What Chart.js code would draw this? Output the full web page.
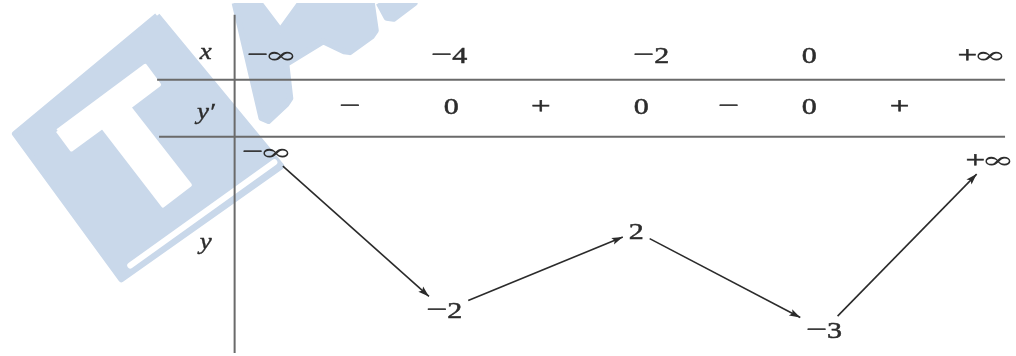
<!DOCTYPE html>
<html><head><meta charset="utf-8">
<script src="https://cdn.jsdelivr.net/npm/chart.js@4.4.1/dist/chart.umd.min.js"></script>
<style>
html,body{margin:0;padding:0;background:#fff;overflow:hidden}
#wrap{width:1016px;height:356px;position:relative}
canvas{filter:blur(0.35px)}
</style>
</head><body><div id="wrap"><canvas id="c" width="1016" height="356"></canvas></div>
<script>
// ---------------- data ----------------
const rowLabels  = ['x', 'y′', 'y'];
const xValues    = ['−∞', '−4', '−2', '0', '+∞'];
const derivSigns = ['−', '0', '+', '0', '−', '0', '+'];
const yLabels    = ['−∞', '−2', '2', '−3', '+∞'];
const yValues    = [-Infinity, -2, 2, -3, Infinity];

// ---------------- layout (units of the x / y scales) ----------------
const layout = {
  xCols:    [271, 449, 652, 811, 985],
  signCols: [349, 451, 541, 642, 730, 811, 902],
  yCols:    [266, 444, 637, 826, 993],
  labelX:   204,
  xRowBase: 61,
  signRowBase: 113,
  rowLabelBases: [57, 118, 250],
  infBase: {neg: 160, pos: 168},
  vLine: {x: 233, y0: 12, y1: 356},
  hLines: [{y: 78, x0: 155, x1: 1008}, {y: 136, x0: 157, x1: 1008}],
  vAxis: {min: -3.775, max: 14.025}
};

// watermark decoration (light blue "TA")
const watermark = {
  color: '#c9d8ea',
  blocks: [
    [[155,13],[280,166],[119,281],[12,133]],
    [[233,0],[258,0],[279,28],[299,0],[371,0],[375,28],[371,34],[349,50],[343,49],[322,39],[285,62],[289,97],[285,103],[267,120],[260,117]],
    [[378,0],[386,15],[393,16],[414,0]]
  ],
  holes: [
    [[55,130],[143,64],[157,83],[127,106],[188,185],[161,206],[100,126],[69,149]]
  ],
  stripe: [[128,267],[273,162]]
};

const styles = {
  text: '#2c2c2c',
  rule: '#6a6a6a',
  ruleWidth: 2,
  arrow: '#2b2b2b',
  arrowWidth: 1.6,
  headLen: 11,
  headHalf: 3.6
};

const GLYPH = {
  '−': {font: '24px "Liberation Serif"', sx: 1.55, dy: -1, kern: 0, stroke: 0.5},
  '+': {font: '24px "Liberation Serif"', sx: 1.45, dy: -1, kern: 0, stroke: 0.5},
  '∞': {font: '23px "DejaVu Serif"', sx: 1.75, dy: 0, kern: -4, stroke: 0},
  d:   {font: '24px "Liberation Serif"', sx: 1.25, dy: 0, kern: 0, stroke: 0.5},
  it:  {font: 'italic 24px "Liberation Serif"', sx: 1.12, dy: 0, kern: 0, stroke: 0.4}
};
function glyphFor(ch, italic) {
  if (italic) return GLYPH.it;
  return GLYPH[ch] || GLYPH.d;
}
function measureMath(ctx, str, italic) {
  let w = 0;
  for (const ch of str) { const g = glyphFor(ch, italic); ctx.font = g.font; w += ctx.measureText(ch).width * g.sx + g.kern; }
  return w;
}
function drawMath(ctx, str, cx, base, italic) {
  const w = measureMath(ctx, str, italic);
  let x = cx - w / 2;
  ctx.textAlign = 'left';
  ctx.textBaseline = 'alphabetic';
  ctx.fillStyle = styles.text;
  ctx.strokeStyle = styles.text;
  for (const ch of str) {
    const g = glyphFor(ch, italic);
    ctx.font = g.font;
    x += g.kern;
    const cw = ctx.measureText(ch).width * g.sx;
    ctx.save();
    ctx.translate(x, base + g.dy);
    ctx.scale(g.sx, 1);
    ctx.fillText(ch, 0, 0);
    if (g.stroke) { ctx.lineWidth = g.stroke; ctx.strokeText(ch, 0, 0); }
    ctx.restore();
    x += cw;
  }
}

function yRowAnchor(chart, i) {
  const sx = chart.scales.x, sy = chart.scales.y, sv = chart.scales.yv;
  const v = yValues[i];
  const base = isFinite(v) ? sv.getPixelForValue(v)
             : sy.getPixelForValue(v < 0 ? layout.infBase.neg : layout.infBase.pos);
  return {x: sx.getPixelForValue(layout.yCols[i]), base};
}

const textPlugin = {
  id: 'tableText',
  afterDatasetsDraw(chart) {
    const ctx = chart.ctx, sx = chart.scales.x, sy = chart.scales.y;
    ctx.save();
    rowLabels.forEach((t, i) => drawMath(ctx, t, sx.getPixelForValue(layout.labelX), sy.getPixelForValue(layout.rowLabelBases[i]), true));
    xValues.forEach((t, i) => drawMath(ctx, t, sx.getPixelForValue(layout.xCols[i]), sy.getPixelForValue(layout.xRowBase)));
    derivSigns.forEach((t, i) => drawMath(ctx, t, sx.getPixelForValue(layout.signCols[i]), sy.getPixelForValue(layout.signRowBase)));
    yLabels.forEach((t, i) => { const a = yRowAnchor(chart, i); drawMath(ctx, t, a.x, a.base); });
    ctx.restore();
  }
};

const arrowHeadPlugin = {
  id: 'arrowHeads',
  afterDatasetsDraw(chart) {
    const ctx = chart.ctx;
    chart.data.datasets.forEach((ds, i) => {
      if (!ds.isArrow) return;
      const pts = chart.getDatasetMeta(i).data;
      if (pts.length < 2) return;
      const a = pts[0], b = pts[pts.length - 1];
      const ang = Math.atan2(b.y - a.y, b.x - a.x);
      ctx.save();
      ctx.translate(b.x, b.y);
      ctx.rotate(ang);
      ctx.fillStyle = styles.arrow;
      ctx.beginPath();
      ctx.moveTo(0, 0);
      ctx.lineTo(-styles.headLen, -styles.headHalf);
      ctx.lineTo(-styles.headLen * 0.8, 0);
      ctx.lineTo(-styles.headLen, styles.headHalf);
      ctx.closePath();
      ctx.fill();
      ctx.restore();
    });
  }
};

function poly(points, fillColor, borderW, order) {
  const data = points.map(p => ({x: p[0], y: p[1]}));
  data.push({x: points[0][0], y: points[0][1]});
  return {data, showLine: true, fill: 'shape', backgroundColor: fillColor, borderColor: fillColor,
          borderWidth: borderW, borderJoinStyle: 'round', pointRadius: 0, tension: 0, order};
}
function seg(x0, y0, x1, y1, color, w, order) {
  return {data: [{x: x0, y: y0}, {x: x1, y: y1}], showLine: true, fill: false, borderColor: color,
          borderWidth: w, pointRadius: 0, order};
}

const datasets = [];
watermark.blocks.forEach(b => datasets.push(poly(b, watermark.color, 6, 20)));
watermark.holes.forEach(h => datasets.push(poly(h, '#ffffff', 4, 19)));
const st = seg(...watermark.stripe[0], ...watermark.stripe[1], '#ffffff', 6, 18);
st.borderCapStyle = 'round';
datasets.push(st);
layout.hLines.forEach(l => datasets.push(seg(l.x0, l.y, l.x1, l.y, styles.rule, styles.ruleWidth, 5)));
datasets.push(seg(layout.vLine.x, layout.vLine.y0, layout.vLine.x, layout.vLine.y1, styles.rule, styles.ruleWidth, 5));

const chart = new Chart(document.getElementById('c').getContext('2d'), {
  type: 'scatter',
  data: {datasets},
  options: {
    responsive: false,
    devicePixelRatio: 1,
    animation: false,
    events: [],
    layout: {padding: 0},
    plugins: {legend: {display: false}, tooltip: {enabled: false}},
    scales: {
      x: {type: 'linear', min: 0, max: 1016, display: false},
      y: {type: 'linear', min: 0, max: 356, reverse: true, display: false},
      yv: {type: 'linear', min: layout.vAxis.min, max: layout.vAxis.max, display: false}
    }
  },
  plugins: [textPlugin, arrowHeadPlugin]
});

// arrows between consecutive extrema of y, trimmed at the label boxes
(function addArrows() {
  const ctx = chart.ctx, sx = chart.scales.x, sy = chart.scales.y;
  const pad = 6, hh = 8;
  const boxes = yLabels.map((t, i) => {
    const a = yRowAnchor(chart, i);
    return {cx: a.x, cy: a.base - hh, hw: measureMath(ctx, t) / 2 + pad, hh: hh + pad};
  });
  for (let i = 0; i < boxes.length - 1; i++) {
    const A = boxes[i], B = boxes[i + 1];
    const dx = B.cx - A.cx, dy = B.cy - A.cy;
    const tA = Math.min(A.hw / Math.abs(dx), A.hh / Math.abs(dy));
    const tB = Math.min(B.hw / Math.abs(dx), B.hh / Math.abs(dy));
    const p0 = {x: A.cx + tA * dx, y: A.cy + tA * dy};
    const p1 = {x: B.cx - tB * dx, y: B.cy - tB * dy};
    const d = seg(sx.getValueForPixel(p0.x), sy.getValueForPixel(p0.y),
                  sx.getValueForPixel(p1.x), sy.getValueForPixel(p1.y), styles.arrow, styles.arrowWidth, 1);
    d.isArrow = true;
    chart.data.datasets.push(d);
  }
  chart.update();
})();
</script>
</body></html>
